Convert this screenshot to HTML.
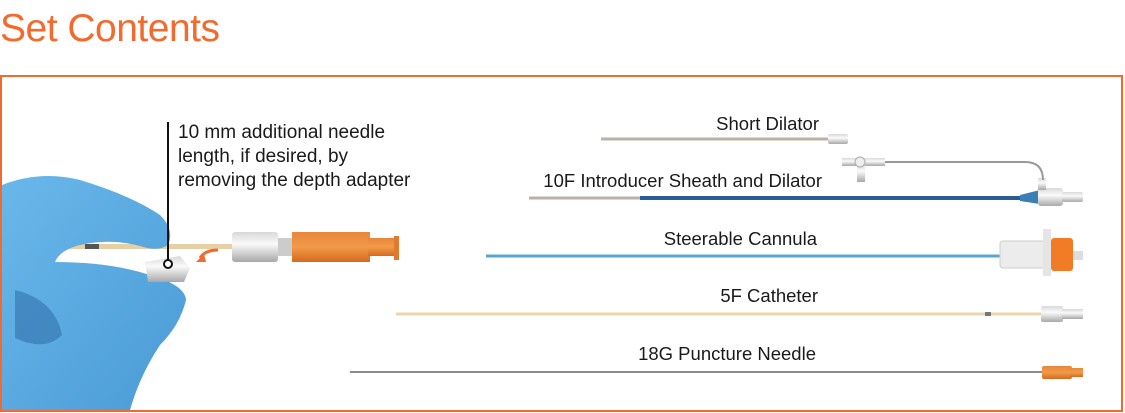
<!DOCTYPE html>
<html><head><meta charset="utf-8"><style>
html,body{margin:0;padding:0;background:#fff;}
body{width:1125px;height:413px;position:relative;overflow:hidden;font-family:"Liberation Sans",sans-serif;}
.t{position:absolute;font-size:39px;color:#f26a2e;left:0;top:7px;letter-spacing:-0.5px;}
.frame{position:absolute;left:0;top:75px;width:1119px;height:333px;border:2.5px solid #f26a2e;}
.lbl{position:absolute;font-size:18.5px;color:#1a1a1a;white-space:nowrap;}
</style></head><body>
<div class="t">Set Contents</div>
<div class="frame"></div>
<div class="lbl" style="left:178px;top:121px;line-height:24px;font-size:19px;">10 mm additional needle<br>length, if desired, by<br>removing the depth adapter</div>
<div class="lbl" style="right:306px;top:113px;">Short Dilator</div>
<div class="lbl" style="right:303px;top:170px;">10F Introducer Sheath and Dilator</div>
<div class="lbl" style="right:308px;top:228px;">Steerable Cannula</div>
<div class="lbl" style="right:307px;top:285px;">5F Catheter</div>
<div class="lbl" style="right:309px;top:343px;">18G Puncture Needle</div>
<svg width="1125" height="413" style="position:absolute;left:0;top:0">
<defs>
<linearGradient id="sil" x1="0" y1="0" x2="0" y2="1"><stop offset="0" stop-color="#d8d8d8"/><stop offset=".4" stop-color="#fafafa"/><stop offset="1" stop-color="#a8a8a8"/></linearGradient>
<linearGradient id="or" x1="0" y1="0" x2="0" y2="1"><stop offset="0" stop-color="#e8873a"/><stop offset=".5" stop-color="#f29a4a"/><stop offset="1" stop-color="#d66a1e"/></linearGradient>
<linearGradient id="gl" x1="0" y1="0" x2="1" y2="1"><stop offset="0" stop-color="#6ab8ea"/><stop offset="1" stop-color="#4a9ad6"/></linearGradient>
</defs>
<!-- needle in hand -->
<rect x="50" y="244" width="190" height="5" fill="#e6cfa5"/>
<rect x="85" y="244" width="14" height="5" fill="#555"/>
<!-- glove -->
<path d="M2 185 Q40 170 80 180 Q130 195 160 215 Q175 230 168 245 Q158 252 140 246 Q110 238 80 245 Q60 250 55 262 Q110 262 150 275 Q185 285 186 300 Q180 325 160 345 Q140 375 130 410 L2 410 Z" fill="url(#gl)"/>
<path d="M15 290 Q55 300 62 335 Q45 352 15 338 Z" fill="#2d6ca8" opacity=".55"/>
<path d="M145 262 L180 256 L190 268 L184 282 L148 282 Z" fill="url(#sil)"/>
<rect x="232" y="232" width="46" height="30" rx="3" fill="url(#sil)"/>
<rect x="278" y="238" width="14" height="18" fill="#ccc"/>
<rect x="292" y="232" width="78" height="30" fill="url(#or)"/>
<rect x="368" y="238" width="28" height="18" fill="url(#or)"/>
<rect x="394" y="236" width="5" height="24" fill="#e07a2e"/>
<path d="M218 250 Q205 250 200 258" stroke="#f26a2e" stroke-width="3" fill="none"/>
<polygon points="196,262 204,254 206,262" fill="#f26a2e"/>
<line x1="168" y1="122" x2="168" y2="260" stroke="#111" stroke-width="2"/>
<circle cx="168" cy="264" r="4" fill="#fff" stroke="#111" stroke-width="2"/>
<!-- short dilator -->
<line x1="601" y1="139" x2="830" y2="139" stroke="#b9b2a6" stroke-width="3"/>
<rect x="828" y="134" width="20" height="10" rx="2" fill="url(#sil)"/>
<!-- introducer -->
<line x1="529" y1="198" x2="640" y2="198" stroke="#b9b2a6" stroke-width="3"/>
<line x1="640" y1="198" x2="1022" y2="198" stroke="#2b5d94" stroke-width="4"/>
<polygon points="1020,195 1040,190 1040,204 1020,201" fill="#3a7fb5"/>
<rect x="1038" y="188" width="25" height="18" rx="3" fill="url(#sil)"/>
<rect x="1062" y="192" width="21" height="10" rx="2" fill="url(#sil)"/>
<rect x="1038" y="178" width="8" height="12" fill="url(#sil)"/>
<path d="M885 162 L1025 162 Q1043 162 1043 180" stroke="#999" stroke-width="2" fill="none"/>
<rect x="842" y="158" width="43" height="8" fill="url(#sil)"/>
<rect x="857" y="164" width="8" height="18" fill="url(#sil)"/>
<circle cx="860" cy="162" r="5" fill="#eee" stroke="#aaa"/>
<!-- steerable cannula -->
<line x1="486" y1="256" x2="1002" y2="256" stroke="#5aa5d4" stroke-width="3"/>
<rect x="1000" y="241" width="45" height="27" rx="3" fill="#ececec" stroke="#ccc"/>
<rect x="1043" y="229" width="8" height="47" fill="#e5e5e5"/>
<rect x="1051" y="238" width="22" height="33" rx="3" fill="#f27c25"/>
<rect x="1073" y="251" width="10" height="9" fill="#ddd"/>
<!-- 5F catheter -->
<line x1="396" y1="314" x2="1042" y2="314" stroke="#ead5ae" stroke-width="3"/>
<rect x="985" y="312" width="6" height="4" fill="#777"/>
<rect x="1041" y="306" width="22" height="16" rx="2" fill="url(#sil)"/>
<rect x="1062" y="309" width="21" height="10" fill="url(#sil)"/>
<!-- needle -->
<line x1="350" y1="372" x2="1042" y2="372" stroke="#666" stroke-width="1.5"/>
<rect x="1042" y="366" width="30" height="13" rx="2" fill="url(#or)"/>
<rect x="1070" y="368" width="13" height="9" fill="url(#or)"/>
</svg>
</body></html>
